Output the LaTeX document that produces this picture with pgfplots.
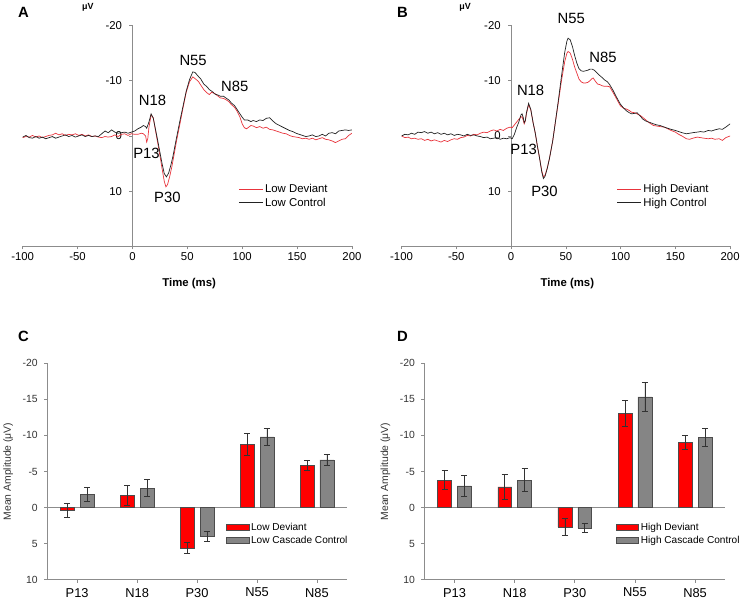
\documentclass[border=0pt]{standalone}
\usepackage{fontspec}
\setmainfont{Liberation Sans}
\usepackage{pgfplots}
\pgfplotsset{compat=1.18}
\definecolor{curvered}{HTML}{E8343C}
\definecolor{curveblack}{HTML}{222222}
\definecolor{axisgray}{HTML}{8C8C8C}
\definecolor{barred}{HTML}{FF0000}
\definecolor{bargray}{HTML}{858585}
\definecolor{labelgray}{HTML}{333333}

\pgfplotsset{
  erp/.style={
    scale only axis,
    xmin=-100, xmax=200, ymin=-20, ymax=20,
    y dir=reverse,
    axis y line=middle, axis x line=bottom,
    axis line style={-, axisgray, line width=0.6bp},
    xtick={-100,-50,0,50,100,150,200},
    ytick={-20,-10,0,10,20},
    tick align=outside, major tick length=3bp,
    tick style={axisgray, line width=0.6bp},
    /pgf/number format/assume math mode=true,
    tick label style={font=\fontsize{11.5}{13}\selectfont},
    yticklabel style={xshift=-4bp},
    legend style={draw=none, fill=none, font=\fontsize{11.5}{14}\selectfont,
      inner sep=0pt, row sep=0pt, cells={anchor=west}},
    legend image code/.code={\draw[#1] (0bp,0bp) -- (24bp,0bp);},
  },
  amp/.style={
    scale only axis,
    xmin=-0.5, xmax=4.5, ymin=-20, ymax=10,
    y dir=reverse,
    axis y line=left, axis x line=bottom,
    axis line style={-, axisgray, line width=0.8bp},
    xtick={0,1,2,3,4},
    xticklabels={P13,N18,P30,N55,N85},
    ytick={-20,-15,-10,-5,0,5,10},
    extra y ticks={0}, extra y tick labels={},
    extra y tick style={grid=major, major grid style={axisgray, line width=0.8bp}, major tick length=0pt},
    tick align=outside, major tick length=3bp,
    tick style={axisgray, line width=0.6bp},
    /pgf/number format/assume math mode=true,
    yticklabel style={font=\fontsize{10.5}{12}\selectfont, text=labelgray, xshift=-3bp},
    xticklabel style={font=\fontsize{13}{15}\selectfont, yshift=-2bp},
    ybar, bar width=14bp,
    error bars/y dir=both, error bars/y explicit,
    error bars/error bar style={black!80, line width=0.6bp},
    error bars/error mark options={rotate=90, mark size=3bp, black!80, line width=0.6bp},
    legend style={draw=none, fill=none, font=\fontsize{10.2}{13}\selectfont,
      inner sep=0pt, row sep=0pt, cells={anchor=west}},
    legend image code/.code={\draw[#1, draw=black!70, line width=0.5bp] (0bp,-3bp) rectangle (23bp,3bp);},
  },
}

\begin{document}
\begin{tikzpicture}[x=1bp, y=1bp]
\path (0,0) rectangle (746,609);

% ---------------- Panel A ----------------
\begin{axis}[erp, at={(17.3bp,360.7bp)}, anchor=south west, width=331.7bp, height=222.6bp,
  legend style={at={(0.655,0.292)}, anchor=north west}]
\addplot[curvered, line width=0.7bp] coordinates {
(-100,0.3) (-97,0.1) (-94,0.2) (-91,-0.1) (-88,0.2) (-85,0.0) (-82,0.3) (-79,0.1) (-76,-0.1) (-73,-0.2)
(-70,-0.5) (-67,-0.2) (-64,-0.4) (-61,-0.1) (-58,-0.3) (-55,-0.2) (-52,-0.4) (-49,-0.1) (-46,-0.3) (-43,0.0)
(-40,-0.2) (-37,0.1) (-34,0.0) (-31,0.2) (-28,0.3) (-25,0.1) (-22,0.2) (-19,0.1) (-16,-0.2) (-13,0.1)
(-10,-0.3) (-7,-0.4) (-4,-0.1) (-1,-0.4) (2,-0.3) (5,-0.3) (8,-0.5) (10,-0.4) (12,0.0) (13,1.1) (14,0.5)
(15,-1.5) (17,-3.8) (19,-3.3) (21,-1.0) (23,1.2) (25,3.5) (27,5.9) (29,8.2) (30.5,9.2) (32,8.8) (34,7.3)
(36,5.5) (38,3.3) (40,1.1) (43,-1.9) (46,-5.0) (49,-7.9) (52,-9.8) (55,-10.7) (57,-10.4) (60,-9.9)
(62,-9.3) (65,-8.4) (68,-7.8) (70,-7.5) (72,-7.9) (75,-7.7) (78,-7.2) (80,-6.9) (83,-6.8) (85,-6.6)
(88,-6.2) (90,-5.7) (93,-5.2) (95,-4.6) (98,-3.4) (100,-2.2) (102,-1.5) (104,-1.3) (106,-1.6) (108,-1.9)
(110,-1.8) (113,-1.5) (116,-1.7) (119,-1.4) (122,-1.6) (125,-1.2) (128,-1.1) (131,-0.9) (134,-0.7)
(137,-0.5) (140,-0.4) (143,-0.1) (146,0.1) (149,0.2) (152,0.3) (155,0.5) (158,0.4) (161,0.6) (164,0.4)
(167,0.7) (170,0.5) (173,0.3) (176,0.6) (179,0.7) (182,0.9) (185,1.2) (188,0.9) (191,0.6) (194,0.5)
(197,-0.1) (200,-0.5)
};
\addlegendentry{Low Deviant}
\addplot[curveblack, line width=0.7bp] coordinates {
(-100,0.2) (-97,-0.1) (-94,0.3) (-91,0.4) (-88,0.1) (-85,0.4) (-82,0.2) (-79,0.5) (-76,0.3) (-73,0.1)
(-70,0.4) (-67,0.2) (-64,0.0) (-61,-0.2) (-58,0.1) (-55,-0.1) (-52,0.2) (-49,0.0) (-46,-0.2) (-43,0.1)
(-40,-0.1) (-37,0.1) (-34,0.0) (-31,0.1) (-28,-0.4) (-25,-0.9) (-22,-0.6) (-19,-1.1) (-16,-0.7) (-13,-0.5)
(-10,-0.6) (-7,-0.7) (-4,-0.5) (-1,-0.7) (2,-0.9) (5,-1.3) (8,-1.6) (10,-1.9) (12,-1.7) (13,-1.4)
(15,-2.5) (17,-4.0) (19,-3.2) (21,-1.2) (23,0.8) (25,2.9) (27,5.0) (29,6.8) (31,7.4) (33,6.7) (35,5.3)
(37,3.6) (40,0.5) (43,-2.5) (46,-5.3) (49,-8.1) (52,-10.2) (55,-11.6) (57,-11.5) (60,-10.8) (62,-10.4)
(65,-9.4) (68,-8.9) (70,-8.4) (73,-8.0) (75,-7.6) (78,-7.4) (80,-7.2) (83,-7.2) (85,-6.9) (88,-6.5)
(90,-6.0) (93,-5.5) (95,-4.9) (98,-4.0) (100,-3.4) (102,-2.9) (105,-2.9) (108,-2.6) (110,-2.8) (113,-2.6)
(116,-2.9) (119,-2.8) (122,-3.2) (125,-3.3) (128,-2.7) (131,-2.2) (134,-1.9) (137,-1.6) (140,-1.3)
(143,-1.0) (146,-0.8) (149,-0.5) (152,-0.3) (155,-0.1) (158,0.1) (161,0.0) (164,-0.2) (167,0.1) (170,0.0)
(173,-0.3) (176,0.0) (179,-0.5) (182,-0.6) (185,-0.4) (188,-0.9) (191,-1.0) (194,-1.1) (197,-1.0) (200,-1.1)
};
\addlegendentry{Low Control}
\end{axis}

% ---------------- Panel B ----------------
\begin{axis}[erp, at={(399bp,360.7bp)}, anchor=south west, width=331bp, height=222.6bp,
  legend style={at={(0.655,0.292)}, anchor=north west}]
\addplot[curvered, line width=0.7bp] coordinates {
(-100,0.0) (-97,0.3) (-94,0.2) (-91,0.5) (-88,0.4) (-85,0.6) (-82,0.5) (-79,0.8) (-76,0.6) (-73,0.9)
(-70,0.7) (-67,0.9) (-64,1.1) (-61,0.8) (-58,1.0) (-55,0.7) (-52,0.5) (-49,0.6) (-46,0.3) (-43,0.2)
(-40,-0.1) (-37,0.0) (-34,-0.3) (-31,-0.2) (-28,-0.5) (-25,-0.7) (-22,-0.6) (-19,-0.9) (-16,-1.1)
(-13,-0.9) (-10,-1.2) (-7,-1.0) (-4,-1.4) (-1,-1.6) (1,-1.5) (3,-2.0) (5,-2.5) (7,-3.0) (9,-3.4)
(10,-3.5) (11,-2.9) (12,-2.2) (13,-2.7) (14,-4.0) (16,-5.7) (18,-4.7) (20,-2.5) (22,-0.6) (24,1.8)
(26,4.0) (28,6.3) (29.5,7.4) (31,7.1) (33,5.8) (35,4.1) (38,0.9) (40,-1.9) (43,-5.9) (46,-10.0)
(49,-13.5) (51,-15.0) (52,-15.3) (54,-15.0) (56,-13.9) (58,-12.5) (60,-11.4) (62,-10.3) (64,-9.8)
(66,-9.6) (68,-9.6) (70,-9.7) (72,-10.0) (74,-10.4) (75,-10.5) (77,-9.9) (79,-9.4) (81,-9.3) (83,-9.1)
(85,-9.0) (88,-9.0) (90,-8.9) (93,-7.9) (95,-7.2) (98,-6.1) (100,-5.4) (103,-5.0) (105,-4.9) (108,-4.6)
(110,-4.3) (113,-4.2) (115,-4.0) (118,-3.7) (120,-3.4) (123,-2.9) (126,-2.4) (130,-1.9) (133,-1.8)
(136,-1.7) (140,-1.6) (143,-1.3) (146,-1.0) (150,-0.7) (153,-0.3) (156,0.0) (160,0.5) (163,0.6)
(166,0.4) (170,0.2) (173,0.3) (176,0.4) (180,0.5) (183,0.4) (186,0.6) (190,0.5) (193,0.8) (196,0.3) (200,0.0)
};
\addlegendentry{High Deviant}
\addplot[curveblack, line width=0.7bp] coordinates {
(-100,0.0) (-97,-0.3) (-94,-0.2) (-91,-0.5) (-88,-0.3) (-85,-0.7) (-82,-0.6) (-79,-0.8) (-76,-0.5)
(-73,-0.7) (-70,-0.4) (-67,-0.6) (-64,-0.3) (-61,-0.5) (-58,-0.2) (-55,-0.4) (-52,-0.1) (-49,-0.3)
(-46,-0.2) (-43,0.0) (-40,-0.3) (-37,-0.1) (-34,-0.2) (-31,0.0) (-28,0.1) (-25,0.3) (-22,0.2) (-19,0.5)
(-16,0.4) (-13,0.3) (-10,0.6) (-7,0.4) (-4,0.5) (-1,0.3) (1,0.5) (3,-0.3) (5,-1.5) (7,-2.5) (9,-3.8)
(10,-4.0) (11,-3.4) (12,-2.4) (13,-2.8) (14,-4.2) (16,-5.9) (18,-4.8) (20,-2.5) (22,-0.6) (24,1.8)
(26,4.0) (28,6.5) (29.5,7.7) (31,7.3) (33,5.9) (35,4.1) (38,0.9) (40,-1.9) (43,-6.2) (46,-10.8)
(49,-15.2) (51,-17.2) (52,-17.7) (54,-17.4) (56,-16.2) (58,-14.6) (60,-13.2) (62,-12.2) (64,-11.8)
(66,-11.7) (68,-11.8) (70,-11.9) (72,-12.1) (74,-12.1) (76,-11.9) (78,-11.5) (80,-11.1) (83,-10.6)
(85,-10.2) (88,-9.8) (90,-9.3) (93,-8.3) (95,-7.5) (98,-6.4) (100,-5.7) (103,-5.0) (105,-4.6) (108,-4.2)
(110,-4.0) (113,-4.1) (115,-4.2) (118,-3.6) (120,-3.1) (123,-2.7) (126,-2.5) (130,-2.2) (133,-2.0)
(136,-1.9) (140,-1.6) (143,-1.4) (146,-1.2) (150,-1.0) (153,-0.8) (156,-0.6) (160,-0.4) (163,-0.5)
(166,-0.6) (170,-0.7) (173,-0.8) (176,-0.7) (180,-1.0) (183,-0.9) (186,-1.1) (190,-1.3) (193,-1.2)
(196,-1.6) (200,-2.2)
};
\addlegendentry{High Control}
\end{axis}

% ---------------- Panel C ----------------
\begin{axis}[amp, at={(42bp,25bp)}, anchor=south west, width=302bp, height=218bp,
  ylabel={Mean Amplitude (μV)},
  ylabel style={font=\fontsize{10.5}{12}\selectfont, text=labelgray},
  legend style={at={(0.595,0.272)}, anchor=north west}]
\addplot[fill=barred, draw=black!70, line width=0.5bp, bar shift=-10bp] coordinates {
(0,0.4) +- (0,1.0) (1,-1.7) +- (0,1.4) (2,5.6) +- (0,0.8) (3,-8.8) +- (0,1.5) (4,-5.8) +- (0,0.7)
};
\addlegendentry{Low Deviant}
\addplot[fill=bargray, draw=black!70, line width=0.5bp, bar shift=10bp] coordinates {
(0,-1.8) +- (0,1.0) (1,-2.7) +- (0,1.2) (2,4.0) +- (0,0.7) (3,-9.8) +- (0,1.2) (4,-6.6) +- (0,0.8)
};
\addlegendentry{Low Cascade Control}
\end{axis}

% ---------------- Panel D ----------------
\begin{axis}[amp, at={(422bp,25bp)}, anchor=south west, width=303bp, height=218bp,
  ylabel={Mean Amplitude (μV)},
  ylabel style={font=\fontsize{10.5}{12}\selectfont, text=labelgray},
  legend style={at={(0.635,0.272)}, anchor=north west}]
\addplot[fill=barred, draw=black!70, line width=0.5bp, bar shift=-10bp] coordinates {
(0,-3.8) +- (0,1.3) (1,-2.85) +- (0,1.7) (2,2.7) +- (0,1.15) (3,-13.1) +- (0,1.8) (4,-9.0) +- (0,0.95)
};
\addlegendentry{High Deviant}
\addplot[fill=bargray, draw=black!70, line width=0.5bp, bar shift=10bp] coordinates {
(0,-3.0) +- (0,1.5) (1,-3.8) +- (0,1.6) (2,2.8) +- (0,0.6) (3,-15.35) +- (0,2.0) (4,-9.75) +- (0,1.2)
};
\addlegendentry{High Cascade Control}
\end{axis}

% ---------------- annotations ----------------
\begin{scope}[every node/.style={inner sep=0pt}]
\node[font=\bfseries\fontsize{15}{17}\selectfont] at (18,596) {A};
\node[font=\bfseries\fontsize{15}{17}\selectfont] at (400,596) {B};
\node[font=\bfseries\fontsize{15}{17}\selectfont] at (18,270) {C};
\node[font=\bfseries\fontsize{15}{17}\selectfont] at (400,270) {D};
\node[font=\bfseries\fontsize{9}{10}\selectfont] at (83,602) {μV};
\node[font=\bfseries\fontsize{9}{10}\selectfont] at (463,602) {μV};
\node[font=\bfseries\fontsize{11.5}{13}\selectfont] at (185,323) {Time (ms)};
\node[font=\bfseries\fontsize{11.5}{13}\selectfont] at (566,323) {Time (ms)};
\begin{scope}[font=\fontsize{15}{17}\selectfont]
\node at (189,548) {N55};
\node at (231,522) {N85};
\node at (148,508) {N18};
\node at (142,454) {P13};
\node at (163,410) {P30};
\node at (570,590) {N55};
\node at (602,551) {N85};
\node at (529,518) {N18};
\node at (522,458) {P13};
\node at (543,416) {P30};
\end{scope}
\end{scope}
\end{tikzpicture}
\end{document}
